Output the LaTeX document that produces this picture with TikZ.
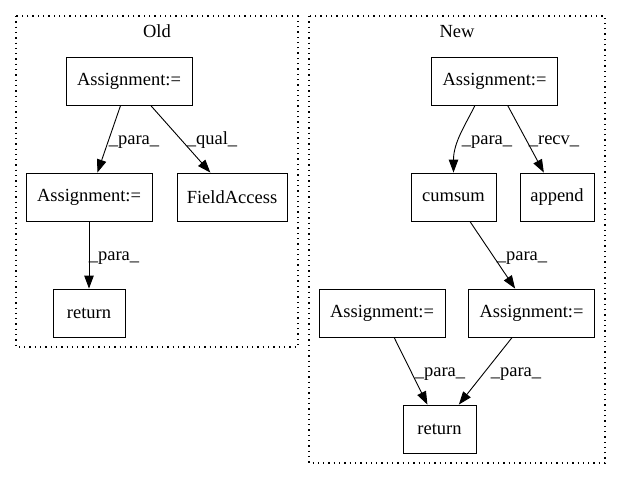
\documentclass[tikz,border=0pt]{standalone}
\usepackage{fontspec}
\setmainfont{Liberation Serif}
\usetikzlibrary{arrows.meta}
\begin{document}
\begin{tikzpicture}[x=1pt,y=-1pt,
  box/.style={draw=black,line width=0.9pt,minimum height=48pt,inner sep=0pt,font=\fontsize{18.5}{20}\selectfont},
  lbl/.style={inner sep=0pt,anchor=base,font=\fontsize{18.5}{20}\selectfont},
  cluster/.style={draw=black,line width=1.2pt,dash pattern=on 1.3pt off 4pt},
  edge/.style={draw=black,line width=0.9pt,-{Triangle[length=13pt,width=9.5pt]}}]
\useasboundingbox (0,0) rectangle (621,480);
% clusters
\draw[cluster] (16,16) rectangle (298,347);
\draw[cluster] (309,16) rectangle (605,463);
\node[lbl] (oldt) at (157,37) {Old};
\node[lbl] (newt) at (457,37) {New};
% Old nodes
\node[box,minimum width=126pt] (oa1) at (129,81) {Assignment:=};
\node[box,minimum width=126pt] (oa2) at (89,197) {Assignment:=};
\node[box,minimum width=110pt] (ofa) at (232,197) {FieldAccess};
\node[box,minimum width=72pt] (oret) at (89,313) {return};
% New nodes
\node[box,minimum width=126pt] (na1) at (494.5,81) {Assignment:=};
\node[box,minimum width=85pt] (ncs) at (453.5,197) {cumsum};
\node[box,minimum width=74pt] (nap) at (557,197) {append};
\node[box,minimum width=126pt] (nal) at (382,313) {Assignment:=};
\node[box,minimum width=126pt] (nar) at (531.5,313) {Assignment:=};
\node[box,minimum width=73pt] (nret) at (439.5,429) {return};
% Old edges
\draw[edge] (oa1) -- (oa2);
\draw[edge] (oa1) -- (ofa);
\draw[edge] (oa2) -- (oret);
\node[lbl] (l1) at (134,144) {\_para\_};
\node[lbl] (l2) at (212,144) {\_qual\_};
\node[lbl] (l3) at (114,260) {\_para\_};
% New edges
\draw[edge] ([xshift=-19.5pt]na1.south) .. controls +(-10,20) and +(0,-30) .. (ncs.north);
\draw[edge] (na1) -- (nap);
\draw[edge] (ncs) -- (nar);
\draw[edge] (nal) -- (nret);
\draw[edge] (nar) -- (nret);
\node[lbl] (l4) at (487,144) {\_para\_};
\node[lbl] (l5) at (554,144) {\_recv\_};
\node[lbl] (l6) at (522,260) {\_para\_};
\node[lbl] (l7) at (440,376) {\_para\_};
\node[lbl] (l8) at (516,376) {\_para\_};
\end{tikzpicture}
\end{document}
